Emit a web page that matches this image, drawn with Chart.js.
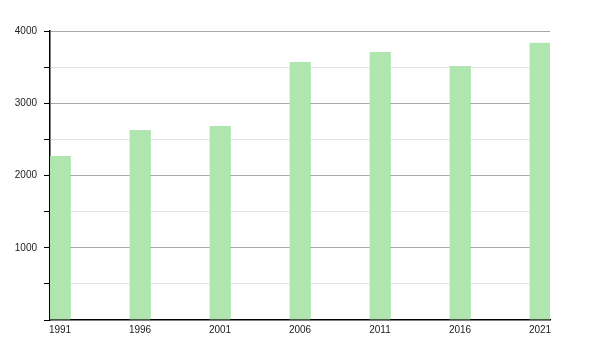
<!DOCTYPE html>
<html>
<head>
<meta charset="utf-8">
<script src="https://cdn.jsdelivr.net/npm/chart.js@4"></script>
<style>
  html, body { margin: 0; padding: 0; background: #fff; }
  #wrap { width: 600px; height: 350px; }
</style>
</head>
<body>
<div id="wrap"><canvas id="chart"></canvas></div>
<script>
// census years and population
const years = [1991, 1996, 2001, 2006, 2011, 2016, 2021];
const population = [2270, 2630, 2685, 3571, 3709, 3516, 3838];
const yTicks = [0, 500, 1000, 1500, 2000, 2500, 3000, 3500, 4000];

const points = years.map(function (y, i) {
  return { x: y, y: population[i] };
});

new Chart(document.getElementById("chart").getContext("2d"), {
  type: "bar",
  data: {
    datasets: [
      {
        data: points,
        backgroundColor: "#afe6af",
        borderColor: "#a3dba3",
        borderWidth: { right: 1 },
        barThickness: 21,
      },
    ],
  },
  options: {
    responsive: true,
    maintainAspectRatio: false,
    animation: false,
    layout: { padding: { left: 0, right: 50, top: 31, bottom: 0 } },
    plugins: { legend: { display: false }, tooltip: { enabled: false } },
    scales: {
      x: {
        type: "linear",
        offset: false,
        min: years[0] - 0.625,
        max: years[years.length - 1] + 0.625,
        afterBuildTicks: function (scale) {
          scale.ticks = years.map(function (y) { return { value: y }; });
        },
        afterFit: function (scale) { scale.height = 30; },
        grid: { display: false, drawTicks: false },
        border: { display: true, color: "#000", width: 1.5 },
        ticks: {
          padding: 4,
          color: "#222",
          font: { family: "Liberation Sans", size: 10 },
          maxRotation: 0,
          autoSkip: false,
          callback: function (v) { return String(v); },
        },
      },
      y: {
        min: 0,
        max: 4000,
        afterBuildTicks: function (scale) {
          scale.ticks = yTicks.map(function (v) { return { value: v }; });
        },
        afterFit: function (scale) { scale.width = 50; },
        grid: {
          color: function (ctx) {
            if (ctx.tick.value === 0) return "rgba(0,0,0,0)";
            return ctx.tick.value % 1000 === 0 ? "#a8a8a8" : "#e2e2e2";
          },
          tickColor: "#000",
          tickLength: 6,
          lineWidth: 1,
        },
        border: { display: true, color: "#000", width: 1.5 },
        ticks: {
          padding: 7,
          color: "#222",
          font: { family: "Liberation Sans", size: 10 },
          callback: function (v) {
            return v !== 0 && v % 1000 === 0 ? String(v) : "";
          },
        },
      },
    },
  },
});
</script>
</body>
</html>
